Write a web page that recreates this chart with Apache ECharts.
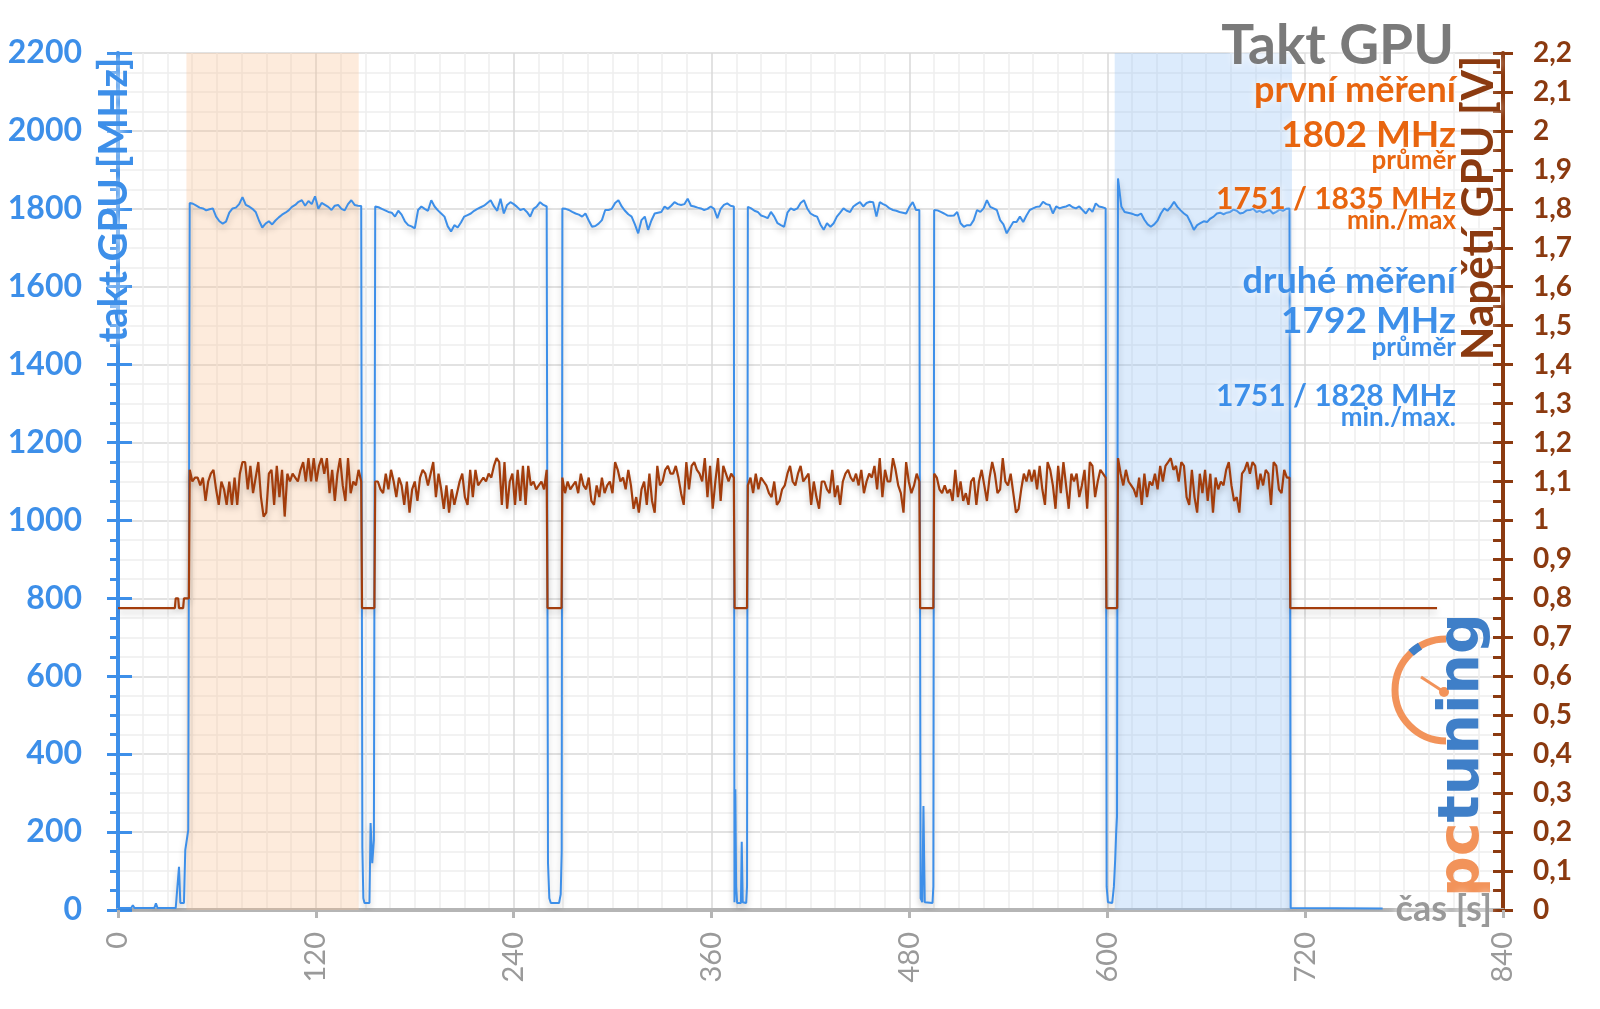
<!DOCTYPE html>
<html>
<head>
<meta charset="utf-8">
<script src="https://cdn.jsdelivr.net/npm/echarts@6/dist/echarts.min.js"></script>
<style>
html, body { margin: 0; padding: 0; background: #fff; }
#chart { width: 1600px; height: 1009px; }
</style>
</head>
<body>
<div id="chart"></div>
<script>
// start time [s] of each load run, samples within a run are evenly spaced
const runStart = [43.5, 156, 269.5, 382, 495, 606.5];
const clockStep = 2;
const voltStep = 1.6;

// GPU clock during each run [MHz]
const clockRun1 = [1815,1813,1808,1803,1801,1796,1799,1801,1780,1768,1762,1767,1790,1801,1803,1812,1830,1810,1806,1800,1792,1770,1752,1762,1768,1760,1770,1778,1785,1790,1796,1805,1810,1818,1822,1808,1820,1812,1832,1800,1815,1810,1805,1797,1808,1810,1800,1796,1812,1822,1810,1808,1807];
const clockRun2 = [1806,1804,1800,1796,1792,1790,1780,1795,1785,1768,1758,1755,1750,1797,1806,1800,1795,1822,1806,1796,1788,1780,1755,1742,1758,1752,1765,1780,1784,1788,1795,1800,1804,1808,1815,1822,1806,1795,1826,1788,1810,1817,1812,1805,1797,1800,1792,1780,1800,1806,1817,1810,1806];
const clockRun3 = [1801,1800,1797,1792,1788,1785,1780,1788,1770,1754,1756,1762,1771,1797,1797,1800,1815,1822,1806,1795,1786,1780,1760,1737,1771,1780,1746,1770,1788,1790,1792,1806,1800,1808,1817,1812,1810,1812,1826,1808,1806,1803,1801,1797,1800,1806,1800,1776,1800,1810,1814,1808,1806];
const clockRun4 = [1805,1801,1795,1792,1783,1780,1776,1792,1780,1763,1758,1754,1790,1801,1797,1801,1815,1822,1801,1788,1783,1780,1760,1746,1763,1754,1763,1780,1790,1801,1795,1792,1806,1812,1817,1806,1815,1818,1817,1780,1817,1812,1808,1801,1797,1795,1792,1790,1788,1805,1817,1797,1797];
const clockRun5 = [1797,1796,1792,1788,1783,1782,1783,1792,1763,1754,1758,1758,1771,1797,1792,1801,1822,1805,1801,1797,1771,1760,1737,1752,1766,1766,1780,1766,1783,1797,1801,1805,1806,1818,1812,1810,1788,1806,1801,1804,1806,1810,1804,1801,1806,1797,1788,1801,1792,1814,1806,1804,1801];
const clockRun6 = [1878,1806,1792,1790,1788,1785,1783,1788,1772,1760,1754,1760,1770,1788,1801,1795,1805,1818,1805,1796,1788,1782,1765,1746,1758,1763,1768,1766,1775,1780,1788,1790,1786,1790,1792,1798,1795,1788,1790,1796,1797,1800,1792,1795,1790,1794,1797,1788,1792,1798,1795,1800,1801];

// GPU clock outside the runs: [time s, MHz]
const clockIdle = [
  [0,5],[8,5],[9,12],[10,5],[22,5],[23,17],[24,5],[35,5],[37,111],[37.8,18],[40,18],[40.8,154],[42.6,205],
  [148.2,160],[148.8,30],[149.5,18],[152.5,18],[153.2,223],[154.2,120],[155.2,180],
  [260.8,120],[261.6,30],[262.5,18],[267.5,18],[268.5,40],[269.1,150],
  [373.9,20],[374.4,310],[374.9,60],[375.5,18],[377.8,18],[378.3,175],[378.9,20],[381,18],[381.5,60],
  [486.8,30],[487.8,20],[488.5,267],[489.3,20],[494,18],[494.5,60],
  [599.6,60],[600.4,20],[603,18],[604,60],[604.8,130],[605.4,200],[605.9,240],
  [711.2,5],[767,4]
];

// GPU voltage during each run [V]
const voltRun1 = [1.13,1.10,1.11,1.11,1.09,1.11,1.05,1.10,1.12,1.13,1.08,1.04,1.10,1.08,1.04,1.10,1.04,1.11,1.04,1.12,1.15,1.15,1.08,1.14,1.07,1.11,1.15,1.06,1.01,1.02,1.12,1.13,1.04,1.14,1.06,1.13,1.01,1.12,1.10,1.12,1.11,1.10,1.13,1.15,1.10,1.16,1.10,1.16,1.10,1.14,1.16,1.12,1.16,1.07,1.13,1.05,1.12,1.16,1.09,1.05,1.16,1.07,1.10,1.09,1.13,1.10];
const voltRun2 = [1.10,1.10,1.08,1.07,1.12,1.08,1.13,1.10,1.06,1.11,1.09,1.04,1.10,1.02,1.08,1.10,1.05,1.11,1.13,1.12,1.09,1.12,1.15,1.06,1.12,1.08,1.03,1.09,1.02,1.08,1.04,1.07,1.10,1.12,1.06,1.04,1.13,1.06,1.13,1.09,1.10,1.11,1.10,1.12,1.11,1.14,1.16,1.15,1.04,1.15,1.03,1.10,1.12,1.04,1.13,1.05,1.14,1.04,1.14,1.09,1.10,1.08,1.09,1.10,1.08,1.13];
const voltRun3 = [1.11,1.07,1.10,1.08,1.09,1.10,1.07,1.12,1.09,1.08,1.11,1.05,1.04,1.09,1.06,1.11,1.07,1.09,1.10,1.07,1.15,1.13,1.10,1.11,1.08,1.13,1.09,1.03,1.06,1.02,1.08,1.10,1.04,1.12,1.05,1.02,1.14,1.09,1.10,1.13,1.14,1.12,1.12,1.14,1.11,1.07,1.04,1.15,1.08,1.14,1.15,1.13,1.12,1.10,1.16,1.06,1.14,1.03,1.10,1.16,1.05,1.14,1.12,1.10,1.12,1.11];
const voltRun4 = [1.09,1.11,1.07,1.12,1.08,1.11,1.10,1.09,1.07,1.06,1.10,1.04,1.05,1.08,1.09,1.12,1.14,1.10,1.09,1.12,1.14,1.10,1.11,1.12,1.04,1.10,1.06,1.03,1.10,1.10,1.08,1.07,1.13,1.06,1.09,1.04,1.10,1.12,1.13,1.11,1.10,1.12,1.09,1.13,1.07,1.10,1.12,1.11,1.14,1.08,1.16,1.06,1.13,1.10,1.10,1.16,1.13,1.09,1.07,1.02,1.15,1.10,1.07,1.09,1.12,1.10];
const voltRun5 = [1.12,1.11,1.08,1.07,1.09,1.07,1.08,1.05,1.13,1.06,1.10,1.05,1.07,1.04,1.10,1.11,1.04,1.10,1.13,1.09,1.05,1.11,1.15,1.12,1.07,1.08,1.16,1.10,1.09,1.12,1.07,1.02,1.03,1.08,1.12,1.10,1.13,1.10,1.13,1.08,1.14,1.08,1.04,1.15,1.13,1.09,1.03,1.14,1.07,1.15,1.09,1.03,1.12,1.10,1.12,1.06,1.09,1.13,1.03,1.15,1.14,1.06,1.10,1.13,1.12,1.11];
const voltRun6 = [1.16,1.12,1.09,1.13,1.10,1.09,1.08,1.06,1.11,1.04,1.12,1.06,1.10,1.09,1.12,1.08,1.14,1.10,1.14,1.15,1.16,1.13,1.14,1.10,1.15,1.14,1.06,1.04,1.13,1.06,1.02,1.12,1.07,1.13,1.05,1.12,1.02,1.11,1.08,1.10,1.09,1.13,1.15,1.09,1.05,1.06,1.02,1.12,1.13,1.15,1.12,1.15,1.14,1.08,1.12,1.09,1.13,1.12,1.04,1.15,1.14,1.08,1.07,1.13,1.11,1.11];

// GPU voltage outside the runs: [time s, V]
const voltIdle = [
  [0,0.775],[34.5,0.775],[35,0.8],[36.5,0.8],[37,0.775],[39.5,0.775],[40,0.8],[43,0.8],
  [148,0.775],[155.5,0.775],
  [260.5,0.775],[269,0.775],
  [374,0.775],[381.5,0.775],
  [486.5,0.775],[494.5,0.775],
  [599.5,0.775],[606,0.775],
  [711,0.775],[800,0.775]
];

// highlighted measurement windows [s]
const firstWindow = [41.5, 146];
const secondWindow = [604.5, 712];

const xTicks = [0, 840, 120];       // min, max, interval
const clockTicks = [0, 2200, 200];
const voltTicks = [0, 2.2, 0.1];

function buildSeries(runs, step, idle) {
  const pts = [];
  runs.forEach((vals, i) => {
    vals.forEach((v, k) => pts.push([runStart[i] + k * step, v]));
  });
  return pts.concat(idle).sort((a, b) => a[0] - b[0]);
}

const clockData = buildSeries([clockRun1, clockRun2, clockRun3, clockRun4, clockRun5, clockRun6], clockStep, clockIdle);
const voltData = buildSeries([voltRun1, voltRun2, voltRun3, voltRun4, voltRun5, voltRun6], voltStep, voltIdle);

const BLUE = '#3d8fe9';
const ORANGE = '#e8650f';
const BROWN = '#8b3a10';
const FONT = 'Lato';

function txt(text, y, size, color) {
  return {
    type: 'text', z: 100, x: 1456, y: y,
    style: {
      text: text, font: 'bold ' + size + 'px ' + FONT, fill: color,
      align: 'right', verticalAlign: 'middle',
      textShadowColor: '#fff', textShadowBlur: 8
    }
  };
}

var myChart = echarts.init(document.getElementById('chart'));
var option = {
  animation: false,
  backgroundColor: '#fff',
  grid: { left: 118, right: 97, top: 53, bottom: 99, containLabel: false, outerBoundsMode: 'none' },
  xAxis: {
    type: 'value', min: xTicks[0], max: xTicks[1], interval: xTicks[2],
    axisLine: { lineStyle: { color: '#b5b5b5', width: 4 } },
    axisTick: { length: 8, lineStyle: { color: '#b5b5b5', width: 3 } },
    minorTick: { show: false, splitNumber: 8 },
    axisLabel: { rotate: 90, color: '#9a9a9a', fontSize: 29, fontFamily: FONT, margin: 22 },
    splitLine: { lineStyle: { color: '#d9d9d9', width: 1.5 } },
    minorSplitLine: { show: true, lineStyle: { color: '#eeeeee', width: 1.5 } }
  },
  yAxis: [
    {
      type: 'value', position: 'left', min: clockTicks[0], max: clockTicks[1], interval: clockTicks[2],
      axisLine: { show: true, lineStyle: { color: BLUE, width: 4 } },
      axisTick: { show: true, length: 11, lineStyle: { color: BLUE, width: 3 } },
      minorTick: { show: true, splitNumber: 4, length: 8, lineStyle: { color: BLUE, width: 3 } },
      axisLabel: { color: BLUE, fontSize: 32, fontWeight: 'bold', fontFamily: FONT, margin: 36, formatter: v => String(v) },
      splitLine: { lineStyle: { color: '#d9d9d9', width: 1.5 } },
      minorSplitLine: { show: true, lineStyle: { color: '#eeeeee', width: 1.5 } }
    },
    {
      type: 'value', position: 'left', min: clockTicks[0], max: clockTicks[1], interval: clockTicks[2],
      axisLine: { show: false },
      axisTick: { show: true, inside: true, length: 14, lineStyle: { color: BLUE, width: 3 } },
      axisLabel: { show: false }, splitLine: { show: false }
    },
    {
      type: 'value', position: 'right', min: voltTicks[0], max: voltTicks[1], interval: voltTicks[2],
      axisLine: { show: true, lineStyle: { color: BROWN, width: 4 } },
      axisTick: { show: true, length: 10, lineStyle: { color: BROWN, width: 3 } },
      axisLabel: {
        color: BROWN, fontSize: 28, fontWeight: 'bold', fontFamily: FONT, margin: 30,
        formatter: v => String(Math.round(v * 10) / 10).replace('.', ',')
      },
      splitLine: { show: false }
    },
    {
      type: 'value', position: 'right', min: voltTicks[0], max: voltTicks[1], interval: voltTicks[2],
      axisLine: { show: false },
      axisTick: { show: true, inside: true, length: 10, lineStyle: { color: BROWN, width: 3 } },
      minorTick: { show: true, splitNumber: 2, length: 10, lineStyle: { color: BROWN, width: 3 } },
      axisLabel: { show: false }, splitLine: { show: false }
    }
  ],
  series: [
    {
      name: 'takt GPU', type: 'line', yAxisIndex: 0, data: clockData,
      showSymbol: false, z: 3,
      lineStyle: { color: BLUE, width: 2, shadowColor: 'rgba(0,0,0,0.22)', shadowBlur: 6, shadowOffsetY: 4 },
      markArea: {
        silent: true,
        data: [
          [{ xAxis: firstWindow[0], itemStyle: { color: 'rgba(248,190,140,0.3)' } }, { xAxis: firstWindow[1] }],
          [{ xAxis: secondWindow[0], itemStyle: { color: 'rgba(150,195,245,0.33)' } }, { xAxis: secondWindow[1] }]
        ]
      }
    },
    {
      name: 'Napětí GPU', type: 'line', yAxisIndex: 2, data: voltData,
      showSymbol: false, z: 4,
      lineStyle: { color: '#a33d0c', width: 2.2, shadowColor: 'rgba(0,0,0,0.22)', shadowBlur: 6, shadowOffsetY: 4 }
    }
  ],
  graphic: [
    {
      type: 'text', z: 100, x: 114, y: 200, rotation: Math.PI / 2,
      style: { text: 'takt GPU [MHz]', font: 'bold 40px ' + FONT, fill: BLUE, align: 'center', verticalAlign: 'middle', textShadowColor: '#fff', textShadowBlur: 8 }
    },
    {
      type: 'text', z: 100, x: 1479, y: 208, rotation: Math.PI / 2,
      style: { text: 'Napětí GPU [V]', font: 'bold 44px ' + FONT, fill: BROWN, align: 'center', verticalAlign: 'middle', textShadowColor: '#fff', textShadowBlur: 8 }
    },
    {
      type: 'text', z: 100, x: 1454, y: 46,
      style: { text: 'Takt GPU', font: 'bold 55px ' + FONT, fill: '#7a7a7a', align: 'right', verticalAlign: 'middle', textShadowColor: '#fff', textShadowBlur: 8 }
    },
    txt('první měření', 90, 36, ORANGE),
    txt('1802 MHz', 135, 37, ORANGE),
    txt('průměr', 161, 26, ORANGE),
    txt('1751 / 1835 MHz', 199, 30, ORANGE),
    txt('min./max', 221, 26, ORANGE),
    txt('druhé měření', 281, 36, BLUE),
    txt('1792 MHz', 321, 37, BLUE),
    txt('průměr', 348, 26, BLUE),
    txt('1751 / 1828 MHz', 396, 30, BLUE),
    txt('min./max.', 418, 26, BLUE),
    {
      type: 'text', z: 100, x: 1492, y: 909,
      style: { text: 'čas [s]', font: 'bold 36px ' + FONT, fill: '#999', align: 'right', verticalAlign: 'middle', textShadowColor: '#fff', textShadowBlur: 8 }
    },
    // pctuning logo
    {
      type: 'arc', z: 90,
      shape: { cx: 1446, cy: 690, r: 51, startAngle: Math.PI / 2, endAngle: Math.PI * 3 / 2, clockwise: true },
      style: { stroke: '#f2935a', lineWidth: 7, fill: null }
    },
    {
      type: 'arc', z: 91,
      shape: { cx: 1446, cy: 690, r: 51, startAngle: Math.PI * 1.26, endAngle: Math.PI * 1.33, clockwise: true },
      style: { stroke: '#3f7fc8', lineWidth: 8, fill: null }
    },
    {
      type: 'line', z: 91,
      shape: { x1: 1444, y1: 692, x2: 1421, y2: 677 },
      style: { stroke: '#f2935a', lineWidth: 3 }
    },
    {
      type: 'circle', z: 91,
      shape: { cx: 1444, cy: 692, r: 5 },
      style: { fill: '#f2935a' }
    },
    {
      type: 'text', z: 92, x: 1492, y: 897, rotation: Math.PI / 2,
      style: {
        text: '{o|pc}{b|tuning}', verticalAlign: 'bottom', align: 'left',
        rich: {
          o: { font: 'bold 57px "DejaVu Sans"', fill: '#f2935a' },
          b: { font: 'bold 57px "DejaVu Sans"', fill: '#3f7fc8' }
        }
      }
    }
  ]
};
myChart.clear();
myChart.setOption(option, true);
</script>
</body>
</html>
